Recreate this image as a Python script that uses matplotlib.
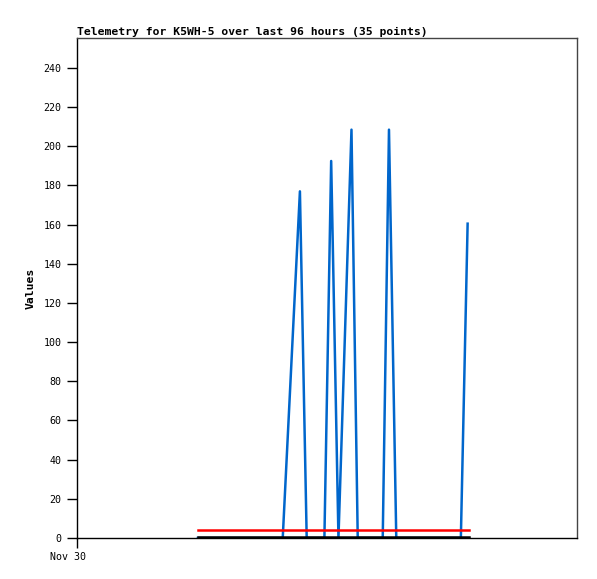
import matplotlib
matplotlib.use("Agg")
import matplotlib.pyplot as plt
import matplotlib.transforms as mtransforms

# hours since Nov 30 00:00
hours = [23.2, 39.5, 42.8, 44.1, 47.5, 48.8, 50.2, 52.7, 53.9, 58.7, 59.9, 61.3, 73.7, 75.0]
blue_values = [0, 0, 177, 0, 0, 192.5, 0, 208.5, 0, 0, 208.5, 0, 0, 160.5]
red_hours = [23.2, 75.25]
red_values = [4, 4]
black_hours = [23.2, 75.25]
black_values = [0.5, 0.5]

yticks = [0, 20, 40, 60, 80, 100, 120, 140, 160, 180, 200, 220, 240]
xtick_pos = [0]
xtick_labels = ["Nov 30"]

title = "Telemetry for K5WH-5 over last 96 hours (35 points)"

plt.rcParams['font.family'] = ['DejaVu Sans Mono']

fig = plt.figure(figsize=(5.97, 5.79), dpi=100)
W, H = 597, 579
ax = fig.add_axes([77 / W, 1 - 538 / H, 500 / W, 500 / H])

ax.plot(hours, blue_values, color="#0066cc", lw=1.8, zorder=3)
ax.plot(red_hours, red_values, color="#ff0000", lw=1.8, zorder=4)
ax.plot(black_hours, black_values, color="#000000", lw=1.8, zorder=5)

ax.set_xlim(0, 96)
ax.set_ylim(0, 255.3)

ax.set_yticks(yticks)
ax.set_yticklabels([str(v) for v in yticks], fontsize=7.2)
ax.set_xticks(xtick_pos)
ax.set_xticklabels(xtick_labels, fontsize=7.2)
ax.tick_params(axis="y", length=7, width=1, pad=4, direction="out")
ax.tick_params(axis="x", length=7, width=1, pad=3, direction="out")
for lbl in ax.get_xticklabels():
    lbl.set_transform(lbl.get_transform() + mtransforms.ScaledTranslation(-9 / 100, 0, fig.dpi_scale_trans))

ax.spines["left"].set_color("black")
ax.spines["bottom"].set_color("black")
ax.spines["top"].set_color("#444444")
ax.spines["right"].set_color("#444444")
for s in ax.spines.values():
    s.set_linewidth(1)

ax.set_ylabel("Values", fontsize=8.2, fontweight="bold", labelpad=6)
ax.set_title(title, fontsize=8.2, fontweight="bold", loc="left", pad=2)

fig.savefig("out.png", dpi=100, facecolor="white")
